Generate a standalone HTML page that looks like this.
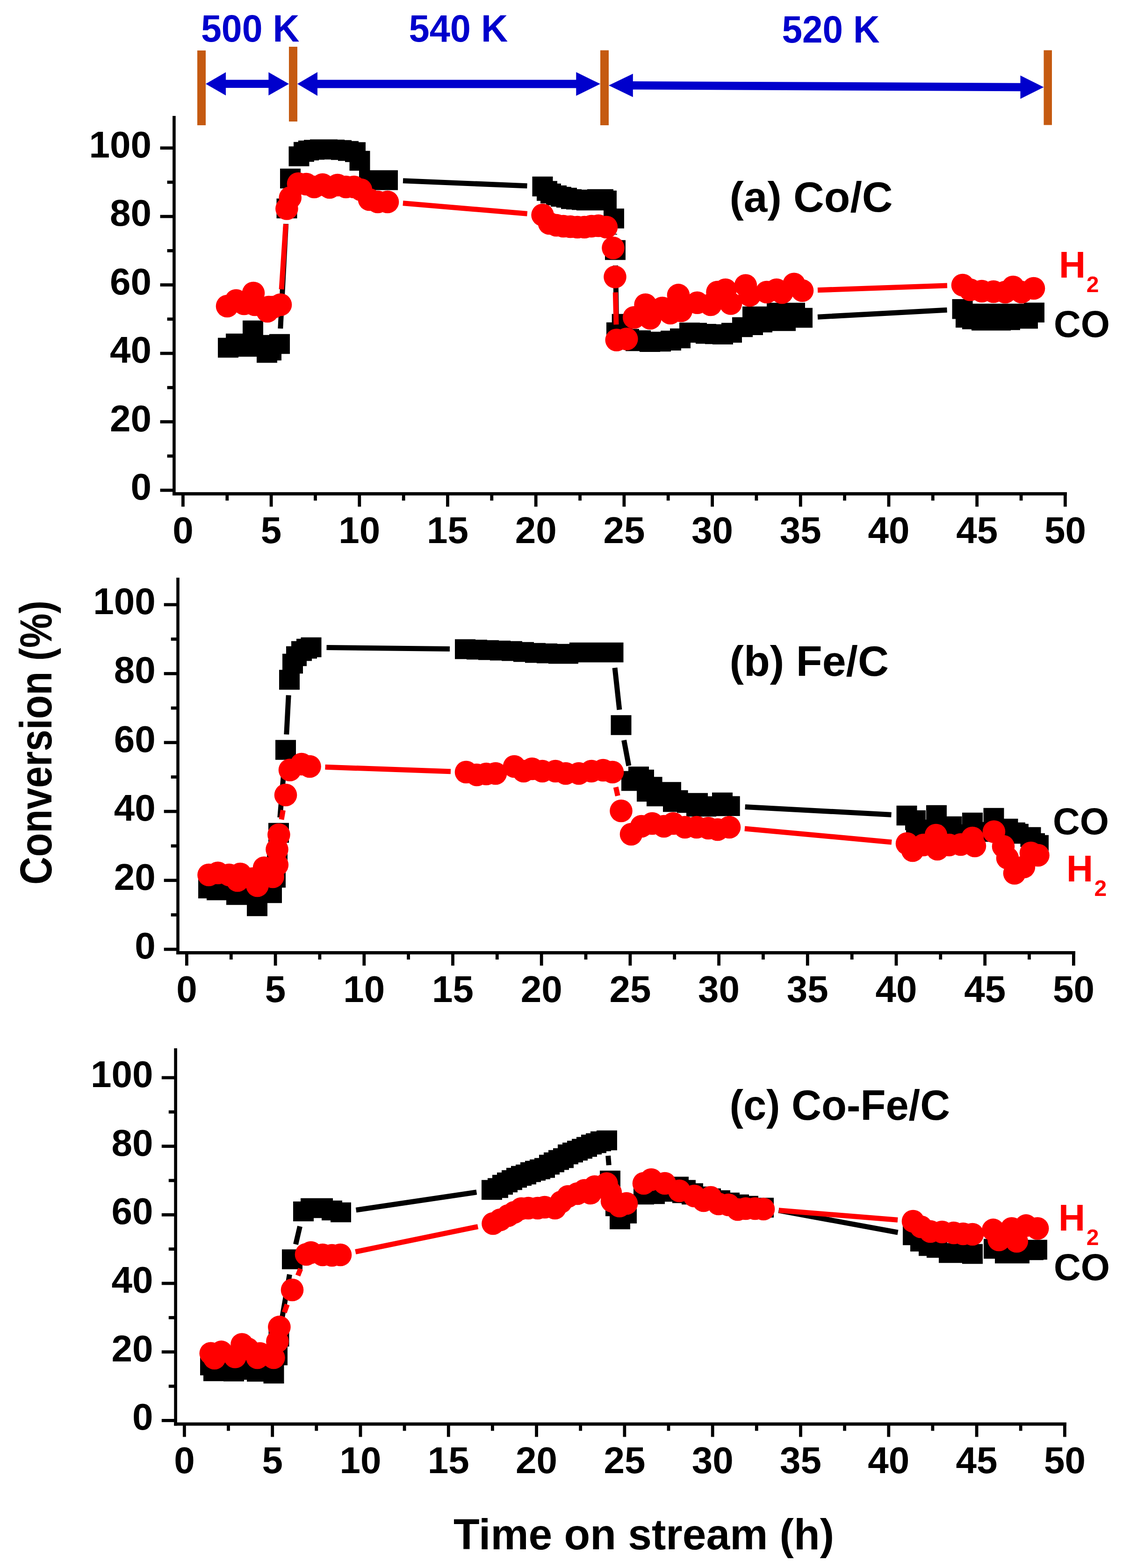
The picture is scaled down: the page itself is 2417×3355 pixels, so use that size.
<!DOCTYPE html><html><head><meta charset="utf-8"><title>Conversion vs time on stream</title>
<style>html,body{margin:0;padding:0;background:#fff;}body{width:2417px;height:3355px;overflow:hidden;}svg{display:block;}.tk{font-family:'Liberation Sans', Arial, sans-serif;font-weight:bold;font-size:80px;fill:#000;}.lb{font-family:'Liberation Sans', Arial, sans-serif;font-weight:bold;}</style></head><body>
<svg width="2417" height="3355" viewBox="0 0 2417 3355">
<rect width="2417" height="3355" fill="#fff"/>
<rect x="422" y="108" width="18" height="160" fill="#C55A11"/>
<rect x="618" y="100" width="18" height="160" fill="#C55A11"/>
<rect x="1284" y="107.6" width="18" height="160.4" fill="#C55A11"/>
<rect x="2232.5" y="107.5" width="17.5" height="160.0" fill="#C55A11"/>
<path d="M481.0 170.7L576.4 170.7L576.4 188.1L481.0 188.1z" fill="#0000CC"/>
<path d="M440.0 179.4L483.0 154.5L483.0 204.3z" fill="#0000CC"/>
<path d="M618.0 179.4L574.4 154.5L574.4 204.3z" fill="#0000CC"/>
<path d="M677.0 170.8L1234.3 170.8L1234.3 188.4L677.0 188.4z" fill="#0000CC"/>
<path d="M636.0 179.6L679.0 154.3L679.0 204.9z" fill="#0000CC"/>
<path d="M1284.0 179.6L1232.3 154.3L1232.3 204.9z" fill="#0000CC"/>
<path d="M1351.8 173.9L2184.5 177.7L2184.5 195.3L1351.8 191.5z" fill="#0000CC"/>
<path d="M1302.0 182.7L1353.8 157.7L1353.8 207.7z" fill="#0000CC"/>
<path d="M2232.5 186.5L2182.5 161.5L2182.5 211.5z" fill="#0000CC"/>
<text x="430" y="89" class="lb" font-size="81" fill="#0000CC" textLength="210.5" lengthAdjust="spacingAndGlyphs">500 K</text>
<text x="874.5" y="89.3" class="lb" font-size="81" fill="#0000CC" textLength="212.0" lengthAdjust="spacingAndGlyphs">540 K</text>
<text x="1672.5" y="91" class="lb" font-size="81" fill="#0000CC" textLength="209.0" lengthAdjust="spacingAndGlyphs">520 K</text>
<rect x="369.1" y="248.0" width="6.6" height="812.1" fill="#000"/>
<rect x="369.1" y="1053.1" width="1912.9" height="7.0" fill="#000"/>
<rect x="342.6" y="1045.6" width="27.5" height="6.8" fill="#000"/>
<text x="324.0" y="1069.0" text-anchor="end" class="tk">0</text>
<rect x="357.6" y="972.4" width="12.5" height="6.8" fill="#000"/>
<rect x="342.6" y="899.1" width="27.5" height="6.8" fill="#000"/>
<text x="324.0" y="922.5" text-anchor="end" class="tk">20</text>
<rect x="357.6" y="825.9" width="12.5" height="6.8" fill="#000"/>
<rect x="342.6" y="752.7" width="27.5" height="6.8" fill="#000"/>
<text x="324.0" y="776.1" text-anchor="end" class="tk">40</text>
<rect x="357.6" y="679.4" width="12.5" height="6.8" fill="#000"/>
<rect x="342.6" y="606.2" width="27.5" height="6.8" fill="#000"/>
<text x="324.0" y="629.6" text-anchor="end" class="tk">60</text>
<rect x="357.6" y="533.0" width="12.5" height="6.8" fill="#000"/>
<rect x="342.6" y="459.8" width="27.5" height="6.8" fill="#000"/>
<text x="324.0" y="483.2" text-anchor="end" class="tk">80</text>
<rect x="357.6" y="386.5" width="12.5" height="6.8" fill="#000"/>
<rect x="342.6" y="313.3" width="27.5" height="6.8" fill="#000"/>
<text x="324.0" y="336.7" text-anchor="end" class="tk">100</text>
<rect x="388.0" y="1059.1" width="6.8" height="25.0" fill="#000"/>
<text x="391.4" y="1162.1" text-anchor="middle" class="tk">0</text>
<rect x="482.4" y="1059.1" width="6.8" height="12.0" fill="#000"/>
<rect x="576.7" y="1059.1" width="6.8" height="25.0" fill="#000"/>
<text x="580.1" y="1162.1" text-anchor="middle" class="tk">5</text>
<rect x="671.1" y="1059.1" width="6.8" height="12.0" fill="#000"/>
<rect x="765.4" y="1059.1" width="6.8" height="25.0" fill="#000"/>
<text x="768.8" y="1162.1" text-anchor="middle" class="tk">10</text>
<rect x="859.8" y="1059.1" width="6.8" height="12.0" fill="#000"/>
<rect x="954.1" y="1059.1" width="6.8" height="25.0" fill="#000"/>
<text x="957.5" y="1162.1" text-anchor="middle" class="tk">15</text>
<rect x="1048.4" y="1059.1" width="6.8" height="12.0" fill="#000"/>
<rect x="1142.8" y="1059.1" width="6.8" height="25.0" fill="#000"/>
<text x="1146.2" y="1162.1" text-anchor="middle" class="tk">20</text>
<rect x="1237.2" y="1059.1" width="6.8" height="12.0" fill="#000"/>
<rect x="1331.5" y="1059.1" width="6.8" height="25.0" fill="#000"/>
<text x="1334.9" y="1162.1" text-anchor="middle" class="tk">25</text>
<rect x="1425.8" y="1059.1" width="6.8" height="12.0" fill="#000"/>
<rect x="1520.2" y="1059.1" width="6.8" height="25.0" fill="#000"/>
<text x="1523.6" y="1162.1" text-anchor="middle" class="tk">30</text>
<rect x="1614.5" y="1059.1" width="6.8" height="12.0" fill="#000"/>
<rect x="1708.9" y="1059.1" width="6.8" height="25.0" fill="#000"/>
<text x="1712.3" y="1162.1" text-anchor="middle" class="tk">35</text>
<rect x="1803.2" y="1059.1" width="6.8" height="12.0" fill="#000"/>
<rect x="1897.6" y="1059.1" width="6.8" height="25.0" fill="#000"/>
<text x="1901.0" y="1162.1" text-anchor="middle" class="tk">40</text>
<rect x="1991.9" y="1059.1" width="6.8" height="12.0" fill="#000"/>
<rect x="2086.3" y="1059.1" width="6.8" height="25.0" fill="#000"/>
<text x="2089.7" y="1162.1" text-anchor="middle" class="tk">45</text>
<rect x="2180.7" y="1059.1" width="6.8" height="12.0" fill="#000"/>
<rect x="2275.0" y="1059.1" width="6.8" height="25.0" fill="#000"/>
<text x="2278.4" y="1162.1" text-anchor="middle" class="tk">50</text>
<path d="M599.8 703.0L611.7 479.0M862.0 386.8L1127.5 397.7M1314.5 500.5L1314.5 502.0M1316.6 568.0L1318.4 678.0M1749.0 678.2L2025.6 663.2" stroke="#000" stroke-width="11" fill="none"/>
<path d="M466.0 722.8h44v42.5h-44zM483.0 713.8h44v42.5h-44zM506.0 720.8h44v42.5h-44zM519.0 685.8h44v42.5h-44zM538.0 716.8h44v42.5h-44zM549.0 733.8h44v42.5h-44zM558.0 728.8h44v42.5h-44zM576.0 714.8h44v42.5h-44zM591.5 424.8h44v42.5h-44zM599.0 360.8h44v42.5h-44zM617.5 313.2h44v42.5h-44zM628.0 303.8h44v42.5h-44zM638.0 300.8h44v42.5h-44zM650.0 299.2h44v42.5h-44zM663.0 298.2h44v42.5h-44zM678.0 298.2h44v42.5h-44zM693.0 298.8h44v42.5h-44zM708.0 299.8h44v42.5h-44zM723.0 301.8h44v42.5h-44zM738.0 304.2h44v42.5h-44zM747.5 322.8h44v42.5h-44zM768.0 364.2h44v42.5h-44zM788.0 364.2h44v42.5h-44zM807.0 364.2h44v42.5h-44zM1138.5 377.8h44v42.5h-44zM1148.0 387.2h44v42.5h-44zM1156.0 392.8h44v42.5h-44zM1168.0 396.8h44v42.5h-44zM1178.0 399.8h44v42.5h-44zM1190.0 401.8h44v42.5h-44zM1200.0 404.8h44v42.5h-44zM1211.0 405.8h44v42.5h-44zM1223.0 406.8h44v42.5h-44zM1233.0 407.8h44v42.5h-44zM1243.0 405.8h44v42.5h-44zM1256.0 404.8h44v42.5h-44zM1268.0 404.8h44v42.5h-44zM1275.0 407.8h44v42.5h-44zM1291.0 446.2h44v42.5h-44zM1294.0 513.8h44v42.5h-44zM1297.0 689.8h44v42.5h-44zM1308.7 671.8h44v42.5h-44zM1323.0 703.8h44v42.5h-44zM1338.0 708.8h44v42.5h-44zM1348.0 706.8h44v42.5h-44zM1368.0 710.4h44v42.5h-44zM1391.0 709.8h44v42.5h-44zM1413.0 707.5h44v42.5h-44zM1433.0 702.8h44v42.5h-44zM1453.0 690.2h44v42.5h-44zM1468.0 690.8h44v42.5h-44zM1488.0 693.1h44v42.5h-44zM1508.0 693.8h44v42.5h-44zM1524.0 694.5h44v42.5h-44zM1543.0 690.8h44v42.5h-44zM1566.0 678.8h44v42.5h-44zM1588.0 655.8h44v42.5h-44zM1588.0 674.5h44v42.5h-44zM1608.0 655.8h44v42.5h-44zM1608.0 668.8h44v42.5h-44zM1633.0 665.8h44v42.5h-44zM1640.0 647.8h44v42.5h-44zM1658.0 665.8h44v42.5h-44zM1678.0 647.8h44v42.5h-44zM1694.0 658.8h44v42.5h-44zM2036.6 640.1h44v42.5h-44zM2044.0 658.5h44v42.5h-44zM2058.0 662.1h44v42.5h-44zM2068.0 649.8h44v42.5h-44zM2078.0 664.8h44v42.5h-44zM2098.0 649.8h44v42.5h-44zM2098.0 664.8h44v42.5h-44zM2118.0 664.8h44v42.5h-44zM2128.0 649.8h44v42.5h-44zM2138.0 663.8h44v42.5h-44zM2158.0 649.8h44v42.5h-44zM2158.0 660.8h44v42.5h-44zM2176.0 660.8h44v42.5h-44zM2190.0 647.5h44v42.5h-44z" fill="#000"/>
<path d="M602.1 619.1L611.3 479.4M861.9 434.8L1127.7 457.2M1316.3 625.5L1318.0 694.5M1749.0 620.7L2026.0 611.1" stroke="#FF0000" stroke-width="11" fill="none"/>
<circle cx="486.0" cy="655.0" r="24.3" fill="#FF0000"/>
<circle cx="505.0" cy="643.0" r="24.3" fill="#FF0000"/>
<circle cx="522.0" cy="650.0" r="24.3" fill="#FF0000"/>
<circle cx="542.0" cy="627.0" r="24.3" fill="#FF0000"/>
<circle cx="545.0" cy="652.0" r="24.3" fill="#FF0000"/>
<circle cx="572.0" cy="666.0" r="24.3" fill="#FF0000"/>
<circle cx="575.0" cy="657.0" r="24.3" fill="#FF0000"/>
<circle cx="585.0" cy="657.0" r="24.3" fill="#FF0000"/>
<circle cx="600.0" cy="652.0" r="24.3" fill="#FF0000"/>
<circle cx="613.4" cy="446.5" r="24.3" fill="#FF0000"/>
<circle cx="620.7" cy="423.0" r="24.3" fill="#FF0000"/>
<circle cx="638.0" cy="393.0" r="24.3" fill="#FF0000"/>
<circle cx="655.0" cy="394.0" r="24.3" fill="#FF0000"/>
<circle cx="672.0" cy="400.0" r="24.3" fill="#FF0000"/>
<circle cx="690.0" cy="395.0" r="24.3" fill="#FF0000"/>
<circle cx="705.0" cy="401.0" r="24.3" fill="#FF0000"/>
<circle cx="722.0" cy="396.0" r="24.3" fill="#FF0000"/>
<circle cx="740.0" cy="400.0" r="24.3" fill="#FF0000"/>
<circle cx="757.0" cy="400.0" r="24.3" fill="#FF0000"/>
<circle cx="772.0" cy="406.0" r="24.3" fill="#FF0000"/>
<circle cx="790.0" cy="427.0" r="24.3" fill="#FF0000"/>
<circle cx="808.0" cy="432.0" r="24.3" fill="#FF0000"/>
<circle cx="829.0" cy="432.0" r="24.3" fill="#FF0000"/>
<circle cx="1160.6" cy="460.0" r="24.3" fill="#FF0000"/>
<circle cx="1175.0" cy="478.0" r="24.3" fill="#FF0000"/>
<circle cx="1190.0" cy="482.0" r="24.3" fill="#FF0000"/>
<circle cx="1205.0" cy="484.0" r="24.3" fill="#FF0000"/>
<circle cx="1220.0" cy="485.0" r="24.3" fill="#FF0000"/>
<circle cx="1235.0" cy="486.0" r="24.3" fill="#FF0000"/>
<circle cx="1250.0" cy="486.0" r="24.3" fill="#FF0000"/>
<circle cx="1265.0" cy="484.0" r="24.3" fill="#FF0000"/>
<circle cx="1280.0" cy="483.0" r="24.3" fill="#FF0000"/>
<circle cx="1297.0" cy="486.0" r="24.3" fill="#FF0000"/>
<circle cx="1311.5" cy="530.5" r="24.3" fill="#FF0000"/>
<circle cx="1315.5" cy="592.5" r="24.3" fill="#FF0000"/>
<circle cx="1318.8" cy="727.5" r="24.3" fill="#FF0000"/>
<circle cx="1340.3" cy="725.3" r="24.3" fill="#FF0000"/>
<circle cx="1356.2" cy="679.3" r="24.3" fill="#FF0000"/>
<circle cx="1380.6" cy="652.0" r="24.3" fill="#FF0000"/>
<circle cx="1390.7" cy="681.0" r="24.3" fill="#FF0000"/>
<circle cx="1416.6" cy="659.0" r="24.3" fill="#FF0000"/>
<circle cx="1433.8" cy="670.0" r="24.3" fill="#FF0000"/>
<circle cx="1451.0" cy="631.4" r="24.3" fill="#FF0000"/>
<circle cx="1456.8" cy="665.0" r="24.3" fill="#FF0000"/>
<circle cx="1491.3" cy="647.7" r="24.3" fill="#FF0000"/>
<circle cx="1520.0" cy="652.0" r="24.3" fill="#FF0000"/>
<circle cx="1534.5" cy="625.0" r="24.3" fill="#FF0000"/>
<circle cx="1551.7" cy="620.0" r="24.3" fill="#FF0000"/>
<circle cx="1563.0" cy="649.5" r="24.3" fill="#FF0000"/>
<circle cx="1594.9" cy="610.7" r="24.3" fill="#FF0000"/>
<circle cx="1603.5" cy="632.0" r="24.3" fill="#FF0000"/>
<circle cx="1640.0" cy="625.0" r="24.3" fill="#FF0000"/>
<circle cx="1661.0" cy="620.0" r="24.3" fill="#FF0000"/>
<circle cx="1672.6" cy="626.0" r="24.3" fill="#FF0000"/>
<circle cx="1698.4" cy="607.8" r="24.3" fill="#FF0000"/>
<circle cx="1716.0" cy="621.8" r="24.3" fill="#FF0000"/>
<circle cx="2059.0" cy="610.0" r="24.3" fill="#FF0000"/>
<circle cx="2075.0" cy="620.0" r="24.3" fill="#FF0000"/>
<circle cx="2100.0" cy="623.0" r="24.3" fill="#FF0000"/>
<circle cx="2125.0" cy="624.0" r="24.3" fill="#FF0000"/>
<circle cx="2150.0" cy="625.0" r="24.3" fill="#FF0000"/>
<circle cx="2167.0" cy="614.0" r="24.3" fill="#FF0000"/>
<circle cx="2185.0" cy="625.0" r="24.3" fill="#FF0000"/>
<circle cx="2211.0" cy="617.0" r="24.3" fill="#FF0000"/>
<rect x="377.2" y="1236.0" width="6.6" height="806.1" fill="#000"/>
<rect x="377.2" y="2035.1" width="1922.8" height="7.0" fill="#000"/>
<rect x="350.7" y="2027.8" width="27.5" height="6.8" fill="#000"/>
<text x="332.7" y="2051.2" text-anchor="end" class="tk">0</text>
<rect x="365.7" y="1954.1" width="12.5" height="6.8" fill="#000"/>
<rect x="350.7" y="1880.3" width="27.5" height="6.8" fill="#000"/>
<text x="332.7" y="1903.7" text-anchor="end" class="tk">20</text>
<rect x="365.7" y="1806.6" width="12.5" height="6.8" fill="#000"/>
<rect x="350.7" y="1732.8" width="27.5" height="6.8" fill="#000"/>
<text x="332.7" y="1756.2" text-anchor="end" class="tk">40</text>
<rect x="365.7" y="1659.1" width="12.5" height="6.8" fill="#000"/>
<rect x="350.7" y="1585.4" width="27.5" height="6.8" fill="#000"/>
<text x="332.7" y="1608.8" text-anchor="end" class="tk">60</text>
<rect x="365.7" y="1511.6" width="12.5" height="6.8" fill="#000"/>
<rect x="350.7" y="1437.9" width="27.5" height="6.8" fill="#000"/>
<text x="332.7" y="1461.3" text-anchor="end" class="tk">80</text>
<rect x="365.7" y="1364.1" width="12.5" height="6.8" fill="#000"/>
<rect x="350.7" y="1290.4" width="27.5" height="6.8" fill="#000"/>
<text x="332.7" y="1313.8" text-anchor="end" class="tk">100</text>
<rect x="396.0" y="2041.1" width="6.8" height="25.0" fill="#000"/>
<text x="399.4" y="2144.1" text-anchor="middle" class="tk">0</text>
<rect x="490.9" y="2041.1" width="6.8" height="12.0" fill="#000"/>
<rect x="585.7" y="2041.1" width="6.8" height="25.0" fill="#000"/>
<text x="589.1" y="2144.1" text-anchor="middle" class="tk">5</text>
<rect x="680.5" y="2041.1" width="6.8" height="12.0" fill="#000"/>
<rect x="775.4" y="2041.1" width="6.8" height="25.0" fill="#000"/>
<text x="778.8" y="2144.1" text-anchor="middle" class="tk">10</text>
<rect x="870.2" y="2041.1" width="6.8" height="12.0" fill="#000"/>
<rect x="965.1" y="2041.1" width="6.8" height="25.0" fill="#000"/>
<text x="968.5" y="2144.1" text-anchor="middle" class="tk">15</text>
<rect x="1059.9" y="2041.1" width="6.8" height="12.0" fill="#000"/>
<rect x="1154.8" y="2041.1" width="6.8" height="25.0" fill="#000"/>
<text x="1158.2" y="2144.1" text-anchor="middle" class="tk">20</text>
<rect x="1249.6" y="2041.1" width="6.8" height="12.0" fill="#000"/>
<rect x="1344.5" y="2041.1" width="6.8" height="25.0" fill="#000"/>
<text x="1347.9" y="2144.1" text-anchor="middle" class="tk">25</text>
<rect x="1439.3" y="2041.1" width="6.8" height="12.0" fill="#000"/>
<rect x="1534.2" y="2041.1" width="6.8" height="25.0" fill="#000"/>
<text x="1537.6" y="2144.1" text-anchor="middle" class="tk">30</text>
<rect x="1629.0" y="2041.1" width="6.8" height="12.0" fill="#000"/>
<rect x="1723.9" y="2041.1" width="6.8" height="25.0" fill="#000"/>
<text x="1727.3" y="2144.1" text-anchor="middle" class="tk">35</text>
<rect x="1818.8" y="2041.1" width="6.8" height="12.0" fill="#000"/>
<rect x="1913.6" y="2041.1" width="6.8" height="25.0" fill="#000"/>
<text x="1917.0" y="2144.1" text-anchor="middle" class="tk">40</text>
<rect x="2008.4" y="2041.1" width="6.8" height="12.0" fill="#000"/>
<rect x="2103.3" y="2041.1" width="6.8" height="25.0" fill="#000"/>
<text x="2106.7" y="2144.1" text-anchor="middle" class="tk">45</text>
<rect x="2198.1" y="2041.1" width="6.8" height="12.0" fill="#000"/>
<rect x="2293.0" y="2041.1" width="6.8" height="25.0" fill="#000"/>
<text x="2296.4" y="2144.1" text-anchor="middle" class="tk">50</text>
<path d="M598.8 1749.1L608.2 1637.4M612.8 1571.5L617.2 1487.5M698.5 1385.4L962.0 1388.6M1315.1 1428.8L1324.9 1518.6M1334.6 1583.8L1344.9 1638.6M1593.7 1726.5L1906.5 1743.2" stroke="#000" stroke-width="11" fill="none"/>
<path d="M424.0 1879.8h44v42.5h-44zM442.0 1883.8h44v42.5h-44zM484.0 1893.8h44v42.5h-44zM523.0 1878.8h44v42.5h-44zM528.0 1917.8h44v42.5h-44zM559.0 1889.8h44v42.5h-44zM567.0 1856.8h44v42.5h-44zM571.0 1818.8h44v42.5h-44zM574.0 1760.8h44v42.5h-44zM589.0 1583.2h44v42.5h-44zM597.0 1433.2h44v42.5h-44zM604.0 1398.8h44v42.5h-44zM612.0 1382.8h44v42.5h-44zM623.0 1371.8h44v42.5h-44zM634.0 1366.8h44v42.5h-44zM643.5 1363.8h44v42.5h-44zM973.0 1367.8h44v42.5h-44zM998.0 1368.8h44v42.5h-44zM1023.0 1369.8h44v42.5h-44zM1048.0 1370.8h44v42.5h-44zM1073.0 1371.8h44v42.5h-44zM1098.0 1373.8h44v42.5h-44zM1123.0 1375.8h44v42.5h-44zM1148.0 1376.8h44v42.5h-44zM1173.0 1377.8h44v42.5h-44zM1193.0 1377.8h44v42.5h-44zM1218.0 1374.8h44v42.5h-44zM1243.0 1374.8h44v42.5h-44zM1268.0 1374.8h44v42.5h-44zM1289.5 1374.8h44v42.5h-44zM1306.5 1530.2h44v42.5h-44zM1329.0 1649.8h44v42.5h-44zM1344.0 1640.2h44v42.5h-44zM1355.0 1646.8h44v42.5h-44zM1362.0 1672.8h44v42.5h-44zM1372.6 1662.2h44v42.5h-44zM1383.0 1682.8h44v42.5h-44zM1398.0 1673.2h44v42.5h-44zM1413.0 1673.2h44v42.5h-44zM1418.0 1694.8h44v42.5h-44zM1427.6 1690.8h44v42.5h-44zM1448.0 1696.8h44v42.5h-44zM1468.0 1704.8h44v42.5h-44zM1470.0 1696.8h44v42.5h-44zM1488.0 1704.8h44v42.5h-44zM1508.0 1703.8h44v42.5h-44zM1523.0 1695.8h44v42.5h-44zM1538.7 1703.5h44v42.5h-44zM1917.5 1723.8h44v42.5h-44zM1936.0 1733.8h44v42.5h-44zM1938.0 1753.8h44v42.5h-44zM1981.0 1722.8h44v42.5h-44zM1968.0 1753.8h44v42.5h-44zM2013.5 1746.8h44v42.5h-44zM2028.0 1763.8h44v42.5h-44zM2058.0 1738.8h44v42.5h-44zM2078.0 1758.8h44v42.5h-44zM2103.5 1728.8h44v42.5h-44zM2133.5 1751.8h44v42.5h-44zM2149.0 1759.8h44v42.5h-44zM2156.0 1762.8h44v42.5h-44zM2182.5 1769.8h44v42.5h-44zM2191.0 1782.8h44v42.5h-44zM2199.0 1786.8h44v42.5h-44z" fill="#000"/>
<path d="M602.0 1753.5L605.4 1733.5M695.5 1641.2L964.0 1650.8M1317.2 1684.2L1321.3 1702.8M1592.9 1773.0L1907.1 1802.0" stroke="#FF0000" stroke-width="11" fill="none"/>
<circle cx="446.5" cy="1872.0" r="24.3" fill="#FF0000"/>
<circle cx="466.0" cy="1867.7" r="24.3" fill="#FF0000"/>
<circle cx="490.0" cy="1872.0" r="24.3" fill="#FF0000"/>
<circle cx="508.0" cy="1884.0" r="24.3" fill="#FF0000"/>
<circle cx="514.0" cy="1870.0" r="24.3" fill="#FF0000"/>
<circle cx="540.0" cy="1880.0" r="24.3" fill="#FF0000"/>
<circle cx="550.5" cy="1895.0" r="24.3" fill="#FF0000"/>
<circle cx="565.0" cy="1856.7" r="24.3" fill="#FF0000"/>
<circle cx="583.6" cy="1876.0" r="24.3" fill="#FF0000"/>
<circle cx="592.8" cy="1850.5" r="24.3" fill="#FF0000"/>
<circle cx="592.5" cy="1817.5" r="24.3" fill="#FF0000"/>
<circle cx="596.4" cy="1786.0" r="24.3" fill="#FF0000"/>
<circle cx="611.0" cy="1701.0" r="24.3" fill="#FF0000"/>
<circle cx="620.0" cy="1647.5" r="24.3" fill="#FF0000"/>
<circle cx="645.0" cy="1635.0" r="24.3" fill="#FF0000"/>
<circle cx="662.5" cy="1640.0" r="24.3" fill="#FF0000"/>
<circle cx="997.0" cy="1652.0" r="24.3" fill="#FF0000"/>
<circle cx="1020.0" cy="1658.0" r="24.3" fill="#FF0000"/>
<circle cx="1040.0" cy="1656.0" r="24.3" fill="#FF0000"/>
<circle cx="1060.0" cy="1655.0" r="24.3" fill="#FF0000"/>
<circle cx="1100.0" cy="1640.0" r="24.3" fill="#FF0000"/>
<circle cx="1120.0" cy="1650.0" r="24.3" fill="#FF0000"/>
<circle cx="1138.0" cy="1645.0" r="24.3" fill="#FF0000"/>
<circle cx="1160.0" cy="1650.0" r="24.3" fill="#FF0000"/>
<circle cx="1188.0" cy="1650.0" r="24.3" fill="#FF0000"/>
<circle cx="1210.0" cy="1655.0" r="24.3" fill="#FF0000"/>
<circle cx="1238.0" cy="1655.0" r="24.3" fill="#FF0000"/>
<circle cx="1265.0" cy="1650.0" r="24.3" fill="#FF0000"/>
<circle cx="1290.0" cy="1648.0" r="24.3" fill="#FF0000"/>
<circle cx="1310.0" cy="1652.0" r="24.3" fill="#FF0000"/>
<circle cx="1328.5" cy="1735.0" r="24.3" fill="#FF0000"/>
<circle cx="1350.0" cy="1785.0" r="24.3" fill="#FF0000"/>
<circle cx="1372.0" cy="1768.0" r="24.3" fill="#FF0000"/>
<circle cx="1395.0" cy="1762.0" r="24.3" fill="#FF0000"/>
<circle cx="1420.0" cy="1768.0" r="24.3" fill="#FF0000"/>
<circle cx="1440.0" cy="1762.0" r="24.3" fill="#FF0000"/>
<circle cx="1465.0" cy="1770.0" r="24.3" fill="#FF0000"/>
<circle cx="1490.0" cy="1770.0" r="24.3" fill="#FF0000"/>
<circle cx="1515.0" cy="1772.0" r="24.3" fill="#FF0000"/>
<circle cx="1535.0" cy="1775.0" r="24.3" fill="#FF0000"/>
<circle cx="1560.0" cy="1770.0" r="24.3" fill="#FF0000"/>
<circle cx="1940.0" cy="1805.0" r="24.3" fill="#FF0000"/>
<circle cx="1952.0" cy="1820.0" r="24.3" fill="#FF0000"/>
<circle cx="1975.0" cy="1808.0" r="24.3" fill="#FF0000"/>
<circle cx="2002.0" cy="1787.0" r="24.3" fill="#FF0000"/>
<circle cx="2005.0" cy="1817.0" r="24.3" fill="#FF0000"/>
<circle cx="2030.0" cy="1808.0" r="24.3" fill="#FF0000"/>
<circle cx="2055.0" cy="1807.0" r="24.3" fill="#FF0000"/>
<circle cx="2080.0" cy="1793.0" r="24.3" fill="#FF0000"/>
<circle cx="2085.0" cy="1810.0" r="24.3" fill="#FF0000"/>
<circle cx="2126.0" cy="1779.5" r="24.3" fill="#FF0000"/>
<circle cx="2146.0" cy="1811.0" r="24.3" fill="#FF0000"/>
<circle cx="2155.0" cy="1836.0" r="24.3" fill="#FF0000"/>
<circle cx="2170.0" cy="1868.5" r="24.3" fill="#FF0000"/>
<circle cx="2190.0" cy="1855.0" r="24.3" fill="#FF0000"/>
<circle cx="2205.0" cy="1825.0" r="24.3" fill="#FF0000"/>
<circle cx="2220.5" cy="1830.0" r="24.3" fill="#FF0000"/>
<rect x="372.3" y="2243.0" width="6.6" height="807.5" fill="#000"/>
<rect x="372.3" y="3043.5" width="1908.7" height="7.0" fill="#000"/>
<rect x="345.8" y="3036.0" width="27.5" height="6.8" fill="#000"/>
<text x="327.5" y="3059.4" text-anchor="end" class="tk">0</text>
<rect x="360.8" y="2962.7" width="12.5" height="6.8" fill="#000"/>
<rect x="345.8" y="2889.3" width="27.5" height="6.8" fill="#000"/>
<text x="327.5" y="2912.7" text-anchor="end" class="tk">20</text>
<rect x="360.8" y="2815.9" width="12.5" height="6.8" fill="#000"/>
<rect x="345.8" y="2742.6" width="27.5" height="6.8" fill="#000"/>
<text x="327.5" y="2766.0" text-anchor="end" class="tk">40</text>
<rect x="360.8" y="2669.2" width="12.5" height="6.8" fill="#000"/>
<rect x="345.8" y="2595.9" width="27.5" height="6.8" fill="#000"/>
<text x="327.5" y="2619.3" text-anchor="end" class="tk">60</text>
<rect x="360.8" y="2522.5" width="12.5" height="6.8" fill="#000"/>
<rect x="345.8" y="2449.2" width="27.5" height="6.8" fill="#000"/>
<text x="327.5" y="2472.6" text-anchor="end" class="tk">80</text>
<rect x="360.8" y="2375.8" width="12.5" height="6.8" fill="#000"/>
<rect x="345.8" y="2302.5" width="27.5" height="6.8" fill="#000"/>
<text x="327.5" y="2325.9" text-anchor="end" class="tk">100</text>
<rect x="391.0" y="3049.5" width="6.8" height="25.0" fill="#000"/>
<text x="394.4" y="3151.5" text-anchor="middle" class="tk">0</text>
<rect x="485.1" y="3049.5" width="6.8" height="12.0" fill="#000"/>
<rect x="579.3" y="3049.5" width="6.8" height="25.0" fill="#000"/>
<text x="582.7" y="3151.5" text-anchor="middle" class="tk">5</text>
<rect x="673.4" y="3049.5" width="6.8" height="12.0" fill="#000"/>
<rect x="767.6" y="3049.5" width="6.8" height="25.0" fill="#000"/>
<text x="771.0" y="3151.5" text-anchor="middle" class="tk">10</text>
<rect x="861.7" y="3049.5" width="6.8" height="12.0" fill="#000"/>
<rect x="955.9" y="3049.5" width="6.8" height="25.0" fill="#000"/>
<text x="959.3" y="3151.5" text-anchor="middle" class="tk">15</text>
<rect x="1050.0" y="3049.5" width="6.8" height="12.0" fill="#000"/>
<rect x="1144.2" y="3049.5" width="6.8" height="25.0" fill="#000"/>
<text x="1147.6" y="3151.5" text-anchor="middle" class="tk">20</text>
<rect x="1238.3" y="3049.5" width="6.8" height="12.0" fill="#000"/>
<rect x="1332.5" y="3049.5" width="6.8" height="25.0" fill="#000"/>
<text x="1335.9" y="3151.5" text-anchor="middle" class="tk">25</text>
<rect x="1426.6" y="3049.5" width="6.8" height="12.0" fill="#000"/>
<rect x="1520.8" y="3049.5" width="6.8" height="25.0" fill="#000"/>
<text x="1524.2" y="3151.5" text-anchor="middle" class="tk">30</text>
<rect x="1614.9" y="3049.5" width="6.8" height="12.0" fill="#000"/>
<rect x="1709.1" y="3049.5" width="6.8" height="25.0" fill="#000"/>
<text x="1712.5" y="3151.5" text-anchor="middle" class="tk">35</text>
<rect x="1803.2" y="3049.5" width="6.8" height="12.0" fill="#000"/>
<rect x="1897.4" y="3049.5" width="6.8" height="25.0" fill="#000"/>
<text x="1900.8" y="3151.5" text-anchor="middle" class="tk">40</text>
<rect x="1991.5" y="3049.5" width="6.8" height="12.0" fill="#000"/>
<rect x="2085.7" y="3049.5" width="6.8" height="25.0" fill="#000"/>
<text x="2089.1" y="3151.5" text-anchor="middle" class="tk">45</text>
<rect x="2179.8" y="3049.5" width="6.8" height="12.0" fill="#000"/>
<rect x="2274.0" y="3049.5" width="6.8" height="25.0" fill="#000"/>
<text x="2277.4" y="3151.5" text-anchor="middle" class="tk">50</text>
<path d="M602.1 2827.5L619.4 2727.0M632.5 2662.4L641.5 2624.1M761.6 2589.1L1019.4 2550.9M1300.7 2472.9L1302.3 2493.1M1665.5 2590.0L1920.5 2637.0" stroke="#000" stroke-width="11" fill="none"/>
<path d="M428.0 2900.2h44v42.5h-44zM435.0 2912.8h44v42.5h-44zM478.0 2913.2h44v42.5h-44zM493.0 2909.8h44v42.5h-44zM528.0 2913.8h44v42.5h-44zM563.5 2917.8h44v42.5h-44zM571.0 2878.8h44v42.5h-44zM574.5 2838.8h44v42.5h-44zM603.0 2673.2h44v42.5h-44zM627.0 2570.8h44v42.5h-44zM643.0 2563.8h44v42.5h-44zM668.0 2563.8h44v42.5h-44zM688.0 2568.8h44v42.5h-44zM707.0 2572.8h44v42.5h-44zM1030.0 2524.8h44v42.5h-44zM1043.0 2520.8h44v42.5h-44zM1053.0 2513.8h44v42.5h-44zM1063.0 2508.8h44v42.5h-44zM1073.0 2503.8h44v42.5h-44zM1083.0 2498.8h44v42.5h-44zM1093.0 2494.8h44v42.5h-44zM1103.0 2491.8h44v42.5h-44zM1113.0 2486.8h44v42.5h-44zM1123.0 2483.8h44v42.5h-44zM1133.0 2480.8h44v42.5h-44zM1143.0 2477.8h44v42.5h-44zM1153.0 2470.8h44v42.5h-44zM1163.0 2465.8h44v42.5h-44zM1173.0 2460.8h44v42.5h-44zM1183.0 2456.8h44v42.5h-44zM1193.0 2448.8h44v42.5h-44zM1203.0 2444.8h44v42.5h-44zM1213.0 2440.8h44v42.5h-44zM1223.0 2436.8h44v42.5h-44zM1233.0 2432.8h44v42.5h-44zM1243.0 2427.8h44v42.5h-44zM1253.0 2424.8h44v42.5h-44zM1263.0 2420.8h44v42.5h-44zM1276.0 2418.8h44v42.5h-44zM1283.0 2504.8h44v42.5h-44zM1295.0 2559.8h44v42.5h-44zM1304.0 2587.8h44v42.5h-44zM1318.0 2575.2h44v42.5h-44zM1355.0 2534.8h44v42.5h-44zM1378.0 2533.8h44v42.5h-44zM1398.0 2528.8h44v42.5h-44zM1418.0 2528.8h44v42.5h-44zM1429.0 2517.8h44v42.5h-44zM1444.0 2524.8h44v42.5h-44zM1460.0 2531.8h44v42.5h-44zM1438.0 2531.8h44v42.5h-44zM1458.0 2534.8h44v42.5h-44zM1478.0 2538.8h44v42.5h-44zM1498.0 2542.8h44v42.5h-44zM1518.0 2546.8h44v42.5h-44zM1538.0 2551.8h44v42.5h-44zM1558.0 2555.8h44v42.5h-44zM1578.0 2558.8h44v42.5h-44zM1598.0 2562.8h44v42.5h-44zM1611.0 2562.8h44v42.5h-44zM1931.0 2621.8h44v42.5h-44zM1947.0 2635.2h44v42.5h-44zM1965.0 2644.8h44v42.5h-44zM1982.0 2648.8h44v42.5h-44zM2008.0 2659.8h44v42.5h-44zM2038.0 2659.8h44v42.5h-44zM2058.0 2661.8h44v42.5h-44zM2104.0 2650.8h44v42.5h-44zM2128.0 2660.8h44v42.5h-44zM2158.0 2660.8h44v42.5h-44zM2188.0 2653.8h44v42.5h-44zM2196.0 2652.8h44v42.5h-44z" fill="#000"/>
<path d="M608.2 2808.2L614.2 2791.2M637.1 2729.3L642.9 2714.7M760.3 2678.4L1022.2 2624.6M1665.9 2589.7L1920.1 2610.3" stroke="#FF0000" stroke-width="11" fill="none"/>
<circle cx="450.8" cy="2895.7" r="24.3" fill="#FF0000"/>
<circle cx="458.7" cy="2906.0" r="24.3" fill="#FF0000"/>
<circle cx="473.4" cy="2892.6" r="24.3" fill="#FF0000"/>
<circle cx="502.8" cy="2903.3" r="24.3" fill="#FF0000"/>
<circle cx="517.5" cy="2876.5" r="24.3" fill="#FF0000"/>
<circle cx="530.0" cy="2886.0" r="24.3" fill="#FF0000"/>
<circle cx="550.5" cy="2905.0" r="24.3" fill="#FF0000"/>
<circle cx="556.0" cy="2896.0" r="24.3" fill="#FF0000"/>
<circle cx="585.4" cy="2905.0" r="24.3" fill="#FF0000"/>
<circle cx="593.4" cy="2870.0" r="24.3" fill="#FF0000"/>
<circle cx="597.4" cy="2839.4" r="24.3" fill="#FF0000"/>
<circle cx="625.0" cy="2760.0" r="24.3" fill="#FF0000"/>
<circle cx="655.0" cy="2684.0" r="24.3" fill="#FF0000"/>
<circle cx="665.0" cy="2680.0" r="24.3" fill="#FF0000"/>
<circle cx="690.0" cy="2685.0" r="24.3" fill="#FF0000"/>
<circle cx="710.0" cy="2686.0" r="24.3" fill="#FF0000"/>
<circle cx="728.0" cy="2685.0" r="24.3" fill="#FF0000"/>
<circle cx="1054.5" cy="2618.0" r="24.3" fill="#FF0000"/>
<circle cx="1070.0" cy="2610.0" r="24.3" fill="#FF0000"/>
<circle cx="1087.0" cy="2601.0" r="24.3" fill="#FF0000"/>
<circle cx="1100.0" cy="2594.0" r="24.3" fill="#FF0000"/>
<circle cx="1115.0" cy="2586.0" r="24.3" fill="#FF0000"/>
<circle cx="1130.0" cy="2585.0" r="24.3" fill="#FF0000"/>
<circle cx="1150.0" cy="2585.0" r="24.3" fill="#FF0000"/>
<circle cx="1165.0" cy="2583.0" r="24.3" fill="#FF0000"/>
<circle cx="1187.0" cy="2585.0" r="24.3" fill="#FF0000"/>
<circle cx="1200.0" cy="2572.0" r="24.3" fill="#FF0000"/>
<circle cx="1215.0" cy="2560.0" r="24.3" fill="#FF0000"/>
<circle cx="1235.0" cy="2554.0" r="24.3" fill="#FF0000"/>
<circle cx="1250.0" cy="2547.0" r="24.3" fill="#FF0000"/>
<circle cx="1272.0" cy="2539.0" r="24.3" fill="#FF0000"/>
<circle cx="1297.5" cy="2532.5" r="24.3" fill="#FF0000"/>
<circle cx="1263.0" cy="2553.0" r="24.3" fill="#FF0000"/>
<circle cx="1306.0" cy="2552.0" r="24.3" fill="#FF0000"/>
<circle cx="1309.0" cy="2570.0" r="24.3" fill="#FF0000"/>
<circle cx="1325.0" cy="2580.5" r="24.3" fill="#FF0000"/>
<circle cx="1340.0" cy="2575.0" r="24.3" fill="#FF0000"/>
<circle cx="1377.0" cy="2532.0" r="24.3" fill="#FF0000"/>
<circle cx="1393.0" cy="2524.0" r="24.3" fill="#FF0000"/>
<circle cx="1422.0" cy="2532.0" r="24.3" fill="#FF0000"/>
<circle cx="1453.0" cy="2548.0" r="24.3" fill="#FF0000"/>
<circle cx="1485.0" cy="2559.0" r="24.3" fill="#FF0000"/>
<circle cx="1505.0" cy="2569.0" r="24.3" fill="#FF0000"/>
<circle cx="1520.0" cy="2562.0" r="24.3" fill="#FF0000"/>
<circle cx="1537.0" cy="2576.0" r="24.3" fill="#FF0000"/>
<circle cx="1558.0" cy="2578.0" r="24.3" fill="#FF0000"/>
<circle cx="1578.0" cy="2588.0" r="24.3" fill="#FF0000"/>
<circle cx="1595.0" cy="2586.0" r="24.3" fill="#FF0000"/>
<circle cx="1615.0" cy="2586.0" r="24.3" fill="#FF0000"/>
<circle cx="1633.0" cy="2587.0" r="24.3" fill="#FF0000"/>
<circle cx="1953.0" cy="2613.0" r="24.3" fill="#FF0000"/>
<circle cx="1970.0" cy="2625.0" r="24.3" fill="#FF0000"/>
<circle cx="1990.0" cy="2635.0" r="24.3" fill="#FF0000"/>
<circle cx="2015.0" cy="2636.0" r="24.3" fill="#FF0000"/>
<circle cx="2040.0" cy="2638.0" r="24.3" fill="#FF0000"/>
<circle cx="2060.0" cy="2640.0" r="24.3" fill="#FF0000"/>
<circle cx="2080.0" cy="2641.0" r="24.3" fill="#FF0000"/>
<circle cx="2124.4" cy="2631.6" r="24.3" fill="#FF0000"/>
<circle cx="2136.6" cy="2653.0" r="24.3" fill="#FF0000"/>
<circle cx="2164.0" cy="2628.5" r="24.3" fill="#FF0000"/>
<circle cx="2174.8" cy="2656.0" r="24.3" fill="#FF0000"/>
<circle cx="2194.7" cy="2622.4" r="24.3" fill="#FF0000"/>
<circle cx="2219.2" cy="2628.5" r="24.3" fill="#FF0000"/>
<text x="1560.5" y="453" class="lb" font-size="90" fill="#000" textLength="349.0" lengthAdjust="spacingAndGlyphs">(a) Co/C</text>
<text x="1560.5" y="1445.5" class="lb" font-size="90" fill="#000" textLength="340.5" lengthAdjust="spacingAndGlyphs">(b) Fe/C</text>
<text x="1560.5" y="2395.5" class="lb" font-size="90" fill="#000" textLength="471.5" lengthAdjust="spacingAndGlyphs">(c) Co-Fe/C</text>
<text x="2265.1" y="594.3" class="lb" font-size="79" fill="#FF0000">H</text>
<text x="2323.7" y="625.3" class="lb" font-size="48" fill="#FF0000">2</text>
<text x="2254" y="720.7" class="lb" font-size="79" fill="#000" textLength="120" lengthAdjust="spacingAndGlyphs">CO</text>
<text x="2281.1" y="1885.8" class="lb" font-size="79" fill="#FF0000">H</text>
<text x="2340.5" y="1917.3" class="lb" font-size="48" fill="#FF0000">2</text>
<text x="2252" y="1785.1" class="lb" font-size="79" fill="#000" textLength="120" lengthAdjust="spacingAndGlyphs">CO</text>
<text x="2264" y="2633.2" class="lb" font-size="79" fill="#FF0000">H</text>
<text x="2323.7" y="2663.9" class="lb" font-size="48" fill="#FF0000">2</text>
<text x="2254" y="2739" class="lb" font-size="79" fill="#000" textLength="120" lengthAdjust="spacingAndGlyphs">CO</text>
<text transform="translate(109.5,1893) rotate(-90)" x="0" y="0" class="lb" font-size="96.6" fill="#000" textLength="608" lengthAdjust="spacingAndGlyphs">Conversion (%)</text>
<text x="970" y="3314.5" class="lb" font-size="92" fill="#000" textLength="814" lengthAdjust="spacingAndGlyphs">Time on stream (h)</text>
</svg></body></html>
